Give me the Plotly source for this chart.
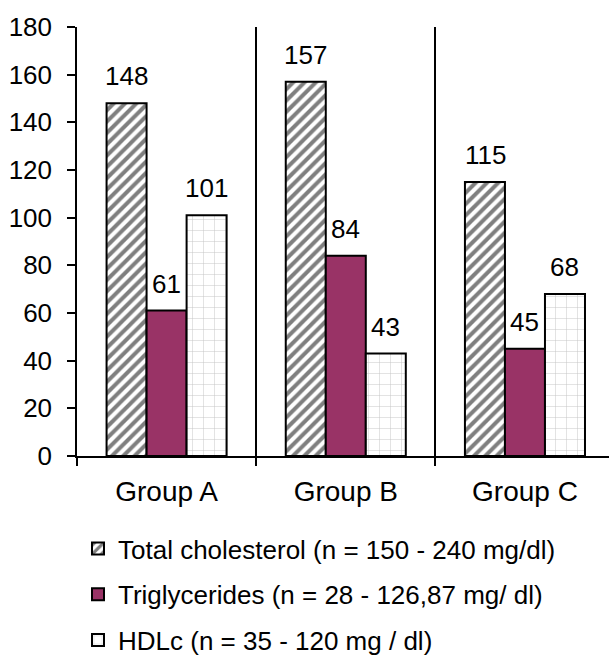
import plotly.graph_objects as go

groups = ["Group A", "Group B", "Group C"]
total_chol = [148, 157, 115]
triglycerides = [61, 84, 45]
hdlc = [101, 43, 68]
series_names = [
    "Total cholesterol (n = 150 - 240 mg/dl)",
    "Triglycerides (n = 28 - 126,87 mg/ dl)",
    "HDLc (n = 35 - 120 mg / dl)",
]
y_ticks = [0, 20, 40, 60, 80, 100, 120, 140, 160, 180]

FONT = "Liberation Sans, Arial, sans-serif"
FS = 26
W, H = 609, 655
ML, MR, MT, MB = 77, 0, 27, 199
PW, PH = W - ML - MR, H - MT - MB

fig = go.Figure()
fig.add_trace(go.Bar(
    x=groups, y=total_chol, name=series_names[0], legendgroup="a",
    marker=dict(color="white", line=dict(color="black", width=2),
                pattern=dict(shape="/", fgcolor="black", bgcolor="white", size=8, solidity=0.5)),
))
fig.add_trace(go.Bar(
    x=groups, y=triglycerides, name=series_names[1], legendgroup="b",
    marker=dict(color="#993366", line=dict(color="black", width=2)),
))
fig.add_trace(go.Bar(
    x=groups, y=hdlc, name=series_names[2], legendgroup="c",
    marker=dict(color="white", line=dict(color="black", width=2),
                pattern=dict(shape="+", fgcolor="#808080", bgcolor="white", size=11, solidity=0.08)),
))

offsets = [-1, 0, 1]
annotations = []
for s, vals in enumerate([total_chol, triglycerides, hdlc]):
    for i, v in enumerate(vals):
        annotations.append(dict(
            x=i + offsets[s] * 0.223, y=v, xref="x", yref="y", text=str(v),
            showarrow=False, yanchor="bottom", yshift=10,
            font=dict(family=FONT, size=FS, color="black"),
        ))

fig.update_layout(
    width=W, height=H,
    margin=dict(l=ML, r=MR, t=MT, b=MB, autoexpand=False),
    paper_bgcolor="white", plot_bgcolor="white",
    barmode="group", bargap=0.33, bargroupgap=0,
    font=dict(family=FONT, size=FS, color="black"),
    annotations=annotations,
    showlegend=True,
    legend=dict(
        x=(78 - ML) / PW, y=-(525 - MT - PH) / PH,
        xanchor="left", yanchor="top", traceorder="grouped", tracegroupgap=9,
        font=dict(family=FONT, size=FS, color="black"),
        bgcolor="rgba(0,0,0,0)",
    ),
    xaxis=dict(
        type="category", range=[-0.5, 2.469], automargin=False,
        showline=True, linecolor="black", linewidth=1.5,
        ticks="outside", ticklen=8, tickcolor="black", tickwidth=1.5,
        tickson="boundaries", showgrid=True, gridcolor="black", gridwidth=1.5,
        ticklabelstandoff=10, tickangle=0,
        tickfont=dict(family=FONT, size=28, color="black"),
    ),
    yaxis=dict(
        range=[0, 180], tickvals=y_ticks, automargin=False,
        showline=True, linecolor="black", linewidth=1.5,
        ticks="outside", ticklen=8, tickcolor="black", tickwidth=1.5,
        showgrid=False, zeroline=False, ticklabelstandoff=10,
    ),
)

fig.write_html("out.html")
